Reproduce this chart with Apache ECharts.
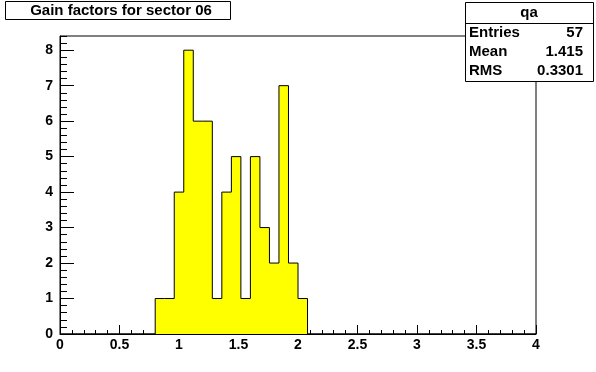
<!DOCTYPE html>
<html>
<head>
<meta charset="utf-8">
<script src="https://cdn.jsdelivr.net/npm/echarts@6/dist/echarts.min.js"></script>
<style>
html,body{margin:0;padding:0;background:#fff;}
#c{width:596px;height:372px;}
</style>
</head>
<body>
<div id="c"></div>
<script>
// ---- data ----
var titleText = "Gain factors for sector 06";
var histName = "qa";
var xMin = 0, xMax = 4, nBins = 50;
var binWidth = (xMax - xMin) / nBins; // 0.08
// counts per bin (bins 0..49)
var counts = [
  0,0,0,0,0, 0,0,0,0,0,
  1,1,4,8,6, 6,1,4,5,1,
  5,3,2,7,2, 1,0,0,0,0,
  0,0,0,0,0, 0,0,0,0,0,
  0,0,0,0,0, 0,0,0,0,0
];
var statLabels = ["Entries", "Mean", "RMS"];
var statValues = ["57", "1.415", "0.3301"];
var xTickLabels = ["0","0.5","1","1.5","2","2.5","3","3.5","4"];
var yTickLabels = ["0","1","2","3","4","5","6","7","8"];
var yMax = 8.4;

// ---- build ----
var stepData = [];
for (var i = 0; i < nBins; i++) {
  stepData.push([xMin + i * binWidth, counts[i]]);
}
stepData.push([xMax, 0]);

var yMajor = yTickLabels.map(Number);
var yMinor = [];
for (var k = 0; k <= 42; k++) yMinor.push(+(k * 0.2).toFixed(2));

var FONT = "Liberation Sans";
var chart = echarts.init(document.getElementById('c'), null, {renderer: 'canvas'});

var gL = 60, gR = 536, gT = 36, gB = 334;

var g = [];
// stats box
g.push({type:'rect', shape:{x:465.5, y:2.5, width:128, height:79}, style:{fill:'#fff', stroke:'#000', lineWidth:1}, z:100});
g.push({type:'line', shape:{x1:465.5, y1:23.5, x2:593.5, y2:23.5}, style:{stroke:'#000', lineWidth:1}, z:101});
g.push({type:'text', x:529, y:13, style:{text:histName, font:'bold 15px "'+FONT+'"', fill:'#000', textAlign:'center', textVerticalAlign:'middle'}, z:102});
for (var s = 0; s < statLabels.length; s++) {
  var yy = 33 + s * 19;
  g.push({type:'text', x:469, y:yy, style:{text:statLabels[s], font:'bold 15px "'+FONT+'"', fill:'#000', textAlign:'left', textVerticalAlign:'middle'}, z:102});
  g.push({type:'text', x:583, y:yy, style:{text:statValues[s], font:'bold 15px "'+FONT+'"', fill:'#000', textAlign:'right', textVerticalAlign:'middle'}, z:102});
}
// title box
g.push({type:'rect', shape:{x:5.5, y:1.5, width:225, height:18}, style:{fill:'#fff', stroke:'#000', lineWidth:1}, z:100});
g.push({type:'text', x:121, y:11, style:{text:titleText, font:'bold 15px "'+FONT+'"', fill:'#000', textAlign:'center', textVerticalAlign:'middle'}, z:102});

var labelStyle = {color:'#000', fontFamily:FONT, fontWeight:'bold', fontSize:14};

chart.setOption({
  animation: false,
  backgroundColor: '#fff',
  grid: {left:gL, right:596-gR, top:gT, bottom:372-gB, show:true, borderColor:'#000', borderWidth:1, backgroundColor:'transparent'},
  xAxis: {
    type:'value', min:xMin, max:xMax, interval:0.5,
    axisLine:{show:true, onZero:false, lineStyle:{color:'#000', width:1}},
    axisTick:{show:true, inside:true, length:9, lineStyle:{color:'#000', width:1}},
    minorTick:{show:true, splitNumber:5, length:4, lineStyle:{color:'#000', width:1}},
    axisLabel:{show:true, margin:4, formatter:function(v){
      var idx = Math.round(v / 0.5); return xTickLabels[idx] !== undefined ? xTickLabels[idx] : '';
    }, ...labelStyle},
    splitLine:{show:false}
  },
  yAxis: [{
    type:'value', min:0, max:yMax,
    axisLine:{show:true, onZero:false, lineStyle:{color:'#000', width:1}},
    axisTick:{show:true, inside:true, length:14, customValues:yMajor, lineStyle:{color:'#000', width:1}},
    axisLabel:{show:true, margin:7, customValues:yMajor, formatter:function(v){
      var idx = Math.round(v); return yTickLabels[idx] !== undefined ? yTickLabels[idx] : '';
    }, ...labelStyle},
    splitLine:{show:false}
  },{
    type:'value', min:0, max:yMax, position:'left',
    axisLine:{show:false},
    axisTick:{show:true, inside:true, length:7, customValues:yMinor, lineStyle:{color:'#000', width:1}},
    axisLabel:{show:false},
    splitLine:{show:false}
  }],
  series: [{
    type:'line', step:'end', data:stepData, symbol:'none', silent:true,
    lineStyle:{color:'#000', width:1},
    areaStyle:{color:'#ffff00', opacity:1},
    z:1
  }],
  graphic: g
});
</script>
</body>
</html>
